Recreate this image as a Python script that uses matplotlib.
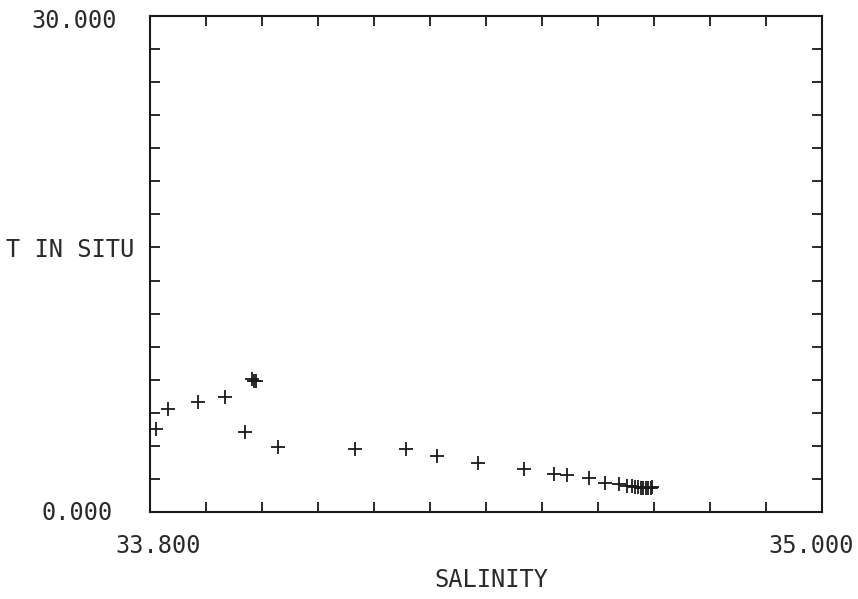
import matplotlib
matplotlib.use('Agg')
import matplotlib.pyplot as plt

# station profile: salinity vs in-situ temperature
salinity = [33.810, 33.832, 33.886, 33.934, 33.970, 33.983, 33.986, 33.989,
            34.029, 34.166, 34.257, 34.313, 34.385, 34.468, 34.522, 34.544,
            34.584, 34.613, 34.637, 34.652, 34.661, 34.666, 34.672, 34.677,
            34.681, 34.686, 34.690, 34.694, 34.697]
temperature = [5.02, 6.23, 6.63, 6.97, 4.86, 8.05, 7.95, 7.90,
               3.91, 3.81, 3.79, 3.39, 2.94, 2.58, 2.28, 2.24,
               2.04, 1.77, 1.67, 1.58, 1.55, 1.52, 1.50, 1.48,
               1.47, 1.46, 1.46, 1.47, 1.52]

xlim = (33.8, 35.0)
ylim = (0.0, 30.0)
xticks = [33.8 + 0.1 * i for i in range(13)]
yticks = [2.0 * i for i in range(16)]

fig = plt.figure(figsize=(8.58, 5.99), dpi=100)
ax = fig.add_axes([150 / 858, 87 / 599, 672 / 858, 496 / 599])

ax.plot(salinity, temperature, linestyle='none', marker='+', markersize=10,
        markeredgewidth=1.3, color='#1a1a1a')

ax.set_xlim(*xlim)
ax.set_ylim(*ylim)
ax.set_xticks(xticks)
ax.set_yticks(yticks)
ax.set_xticklabels([])
ax.set_yticklabels([])
ax.tick_params(direction='in', length=7, width=1.3, top=True, right=True,
               color='#1a1a1a')
for s in ax.spines.values():
    s.set_linewidth(1.5)
    s.set_color('#1a1a1a')

font = dict(family='DejaVu Sans Mono', fontsize=17, color='#2a2a2a')
px = lambda x, y: (x / 858, 1 - y / 599)
fig.text(*px(158, 546), '33.800', ha='center', va='center', **font)
fig.text(*px(811, 546), '35.000', ha='center', va='center', **font)
fig.text(*px(117, 21), '30.000', ha='right', va='center', **font)
fig.text(*px(113, 513), '0.000', ha='right', va='center', **font)
fig.text(*px(491, 580), 'SALINITY', ha='center', va='center', **font)
fig.text(*px(6, 250), 'T IN SITU', ha='left', va='center', **font)

fig.savefig('out.png', dpi=100, facecolor='white')
